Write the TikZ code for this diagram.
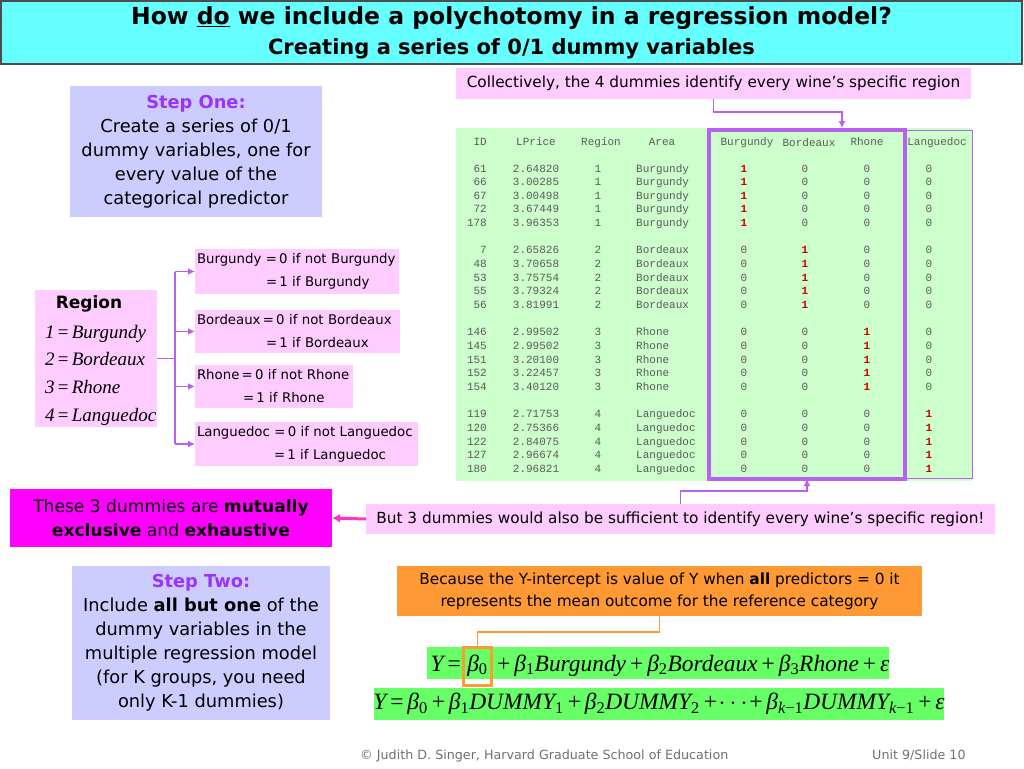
\documentclass[tikz,border=0pt]{standalone}
\usepackage{fontspec}
\setmainfont{DejaVu Sans}
\newfontfamily\tms{Liberation Serif}
\newfontfamily\mono{Liberation Mono}
\usetikzlibrary{arrows.meta,calc}
\definecolor{tcyan}{HTML}{66FFFF}
\definecolor{pinkc}{HTML}{FFCCFF}
\definecolor{lav}{HTML}{CCCCFF}
\definecolor{tgreen}{HTML}{CCFFCC}
\definecolor{purp}{RGB}{182,98,238}
\definecolor{steppurp}{HTML}{9933FF}
\definecolor{mag}{HTML}{FF00FF}
\definecolor{magarrow}{HTML}{FF33CC}
\definecolor{orng}{HTML}{FF9933}
\definecolor{eqgreen}{HTML}{66FF66}
\definecolor{redone}{HTML}{CC0000}
\definecolor{tgray}{HTML}{5A5A5A}
\definecolor{footgray}{HTML}{707070}
\newcommand{\op}[1]{\hspace{0.17em}{\upshape#1}\hspace{0.17em}}
\newcommand{\sub}[1]{\textsubscript{\upshape#1}}
\begin{document}
\begin{tikzpicture}[x=1pt,y=-1pt,
  box/.style={inner sep=0pt, outer sep=0pt, align=center},
  conn/.style={draw=purp, line width=1.5pt},
  tip/.style={-{Latex[length=7pt,width=7pt]}},
  cell/.style={font=\mono\fontsize{11}{13}\selectfont, text=tgray, inner sep=0pt, anchor=base},
  dumtxt/.style={box, fill=pinkc, align=left, font=\fontsize{13.3}{23}\selectfont, inner xsep=2pt},
  stepbox/.style={box, fill=lav, font=\fontsize{17.8}{24}\selectfont},
  eqbox/.style={box, fill=eqgreen},
  eqtxt/.style={inner sep=0pt, font=\tms\itshape\fontsize{23.4}{28}\selectfont},
  regline/.style={anchor=base west, inner sep=0pt, font=\tms\itshape\fontsize{19}{24}\selectfont}]
\useasboundingbox[fill=white] (0,0) rectangle (1024,768);

% title
\node[box, fill=tcyan, draw=black!70, line width=1.2pt, minimum width=1021, minimum height=63,
      font=\bfseries\fontsize{23.5}{30}\selectfont] (title) at (511.5,32.5)
 {How \underline{do} we include a polychotomy in a regression model?\\
  {\fontsize{21}{30}\selectfont Creating a series of 0/1 dummy variables}};

% step one
\node[stepbox, minimum width=252, minimum height=131] (step1) at (196,151.5)
 {{\color{steppurp}\bfseries Step One:}\\Create a series of 0/1\\dummy variables, one for\\every value of the\\categorical predictor};

% step two
\node[stepbox, minimum width=258, minimum height=154] (step2) at (201,643)
 {{\color{steppurp}\bfseries Step Two:}\\Include \textbf{all but one} of the\\dummy variables in the\\multiple regression model\\(for K groups, you need\\only K-1 dummies)};

% collectively
\node[box, fill=pinkc, minimum width=515, minimum height=31, font=\fontsize{15.3}{18}\selectfont] (coll) at (713.5,83.5)
 {Collectively, the 4 dummies identify every wine’s specific region};

% table
\node[box, fill=tgreen, minimum width=516, minimum height=353] (table) at (714,304.5) {};
\node[box, draw=purp, line width=1pt, minimum width=67, minimum height=348] (lang) at (938.5,304) {};
\node[box, draw=purp, line width=4pt, minimum width=196, minimum height=349] (big) at (807,304.5) {};

% headers
\node[cell, anchor=base east] (hID) at (487,145) {ID};
\node[cell] (hLP) at (536,145) {LPrice};
\node[cell] (hRg) at (601,145) {Region};
\node[cell] (hAr) at (662,145) {Area};
\node[cell] (hB1) at (747,145) {Burgundy};
\node[cell] (hB2) at (809,146) {Bordeaux};
\node[cell] (hR3) at (867,145) {Rhone};
\node[cell] (hL4) at (937,145) {Languedoc};

\foreach \i/\id/\pr/\g/\ar in {
 0/61/2.64820/1/Burgundy, 1/66/3.00285/1/Burgundy, 2/67/3.00498/1/Burgundy, 3/72/3.67449/1/Burgundy, 4/178/3.96353/1/Burgundy,
 5/7/2.65826/2/Bordeaux, 6/48/3.70658/2/Bordeaux, 7/53/3.75754/2/Bordeaux, 8/55/3.79324/2/Bordeaux, 9/56/3.81991/2/Bordeaux,
 10/146/2.99502/3/Rhone, 11/145/2.99502/3/Rhone, 12/151/3.20100/3/Rhone, 13/152/3.22457/3/Rhone, 14/154/3.40120/3/Rhone,
 15/119/2.71753/4/Languedoc, 16/120/2.75366/4/Languedoc, 17/122/2.84075/4/Languedoc, 18/127/2.96674/4/Languedoc, 19/180/2.96821/4/Languedoc}{
  \pgfmathsetmacro{\yy}{172+13.65*(\i+\g-1)}
  \node[cell, anchor=base east] (id\i) at (487,\yy) {\id};
  \node[cell] (lp\i) at (536,\yy) {\pr};
  \node[cell] (rg\i) at (598,\yy) {\g};
  \node[cell, anchor=base west] (ar\i) at (636,\yy) {\ar};
  \foreach \c/\x in {1/744,2/805,3/867,4/929}{
    \node[cell] (d\i c\c) at (\x,\yy) {\ifnum\c=\g\relax{\color{redone}\bfseries 1}\else 0\fi};
  }
}

% region
\node[box, fill=pinkc, minimum width=122, minimum height=137] (region) at (96,358.5) {};
\node[anchor=base, inner sep=0pt, font=\bfseries\fontsize{17}{20}\selectfont] (regt) at (89,308) {Region};
\node[regline] (r1) at (45,338) {1\op{=}Burgundy};
\node[regline] (r2) at (45,365) {2\op{=}Bordeaux};
\node[regline] (r3) at (45,393) {3\op{=}Rhone};
\node[regline] (r4) at (45,421) {4\op{=}Languedoc};

% dummy boxes
\node[dumtxt, minimum width=204, minimum height=45, text width=200] (dB) at (297,271.5)
 {\mbox{Burgundy\,\,=\,0 if not Burgundy}\\\mbox{\hspace*{69pt}=\,1 if Burgundy}};
\node[dumtxt, minimum width=205, minimum height=43, text width=201] (dO) at (297.5,331.5)
 {\mbox{Bordeaux\,=\,0 if not Bordeaux}\\\mbox{\hspace*{69pt}=\,1 if Bordeaux}};
\node[dumtxt, minimum width=158, minimum height=43, text width=154] (dR) at (274,386.5)
 {\mbox{Rhone\,=\,0 if not Rhone}\\\mbox{\hspace*{46pt}=\,1 if Rhone}};
\node[dumtxt, minimum width=223, minimum height=44, text width=219] (dL) at (306.5,444)
 {\mbox{Languedoc\,\,=\,0 if not Languedoc}\\\mbox{\hspace*{77pt}=\,1 if Languedoc}};

% region connectors
\coordinate (trunk) at ($(region.east)+(18,0)$);
\draw[conn] (region.east) -- (trunk);
\draw[conn] (trunk |- dB.west) -- (trunk |- dL.west);
\foreach \n in {dB,dO,dR,dL}{
  \draw[conn, tip] (trunk |- \n.west) -- (\n.west);
}

% collectively connector
\draw[conn, tip] (coll.south) |- (842,112) -- (842,128);

% these / but
\node[box, fill=mag, minimum width=322, minimum height=58, font=\fontsize{17.1}{24}\selectfont] (these) at (171,518)
 {These 3 dummies are \textbf{mutually}\\\textbf{exclusive} and \textbf{exhaustive}};
\node[box, fill=pinkc, minimum width=629, minimum height=30, font=\fontsize{15.3}{18}\selectfont] (but) at (680.5,519)
 {But 3 dummies would also be sufficient to identify every wine’s specific region!};
\draw[draw=magarrow, line width=3pt, -{Latex[length=8pt,width=9pt]}] (but.west) -- (these.east);
\draw[conn, tip] (but.north) |- (807,491) -- (big.south);

% orange
\node[box, fill=orng, minimum width=525, minimum height=50, font=\fontsize{15.3}{22}\selectfont] (orange) at (659.5,591)
 {Because the Y-intercept is value of Y when \textbf{all} predictors = 0 it\\represents the mean outcome for the reference category};

% equations
\node[eqbox, minimum width=462, minimum height=32] (eq1) at (658,663) {};
\node[eqbox, minimum width=570, minimum height=32] (eq2) at (659,704) {};
\node[eqtxt, anchor=base east] (eqY) at (461,671) {Y\op{=}};
\node[eqtxt, anchor=base, draw=orng, line width=3pt, minimum width=28, minimum height=38, text depth=8pt] (b0) at (477.5,671) {β\sub{0}};
\node[eqtxt, anchor=base west] (eqrest) at (b0.base east)
 {\op{+}β\sub{1}Burgundy\op{+}β\sub{2}Bordeaux\op{+}β\sub{3}Rhone\op{+}ε};
\node[eqtxt] (eq2t) at (eq2.center)
 {Y\op{=}β\sub{0}\op{+}β\sub{1}DUMMY\sub{1}\op{+}β\sub{2}DUMMY\sub{2}\op{+}\hspace{-0.1em}$\cdots$\hspace{-0.1em}\op{+}β\sub{\itshape k\upshape−1}DUMMY\sub{\itshape k\upshape−1}\op{+}ε};
\draw[draw=orng, line width=1.5pt] (orange.south) |- (b0.north |- 0,632) -- (b0.north);

% footer
\node[anchor=base west, inner sep=0pt, text=footgray, font=\fontsize{12.7}{15}\selectfont] (foot) at (360,759)
 {© Judith D. Singer, Harvard Graduate School of Education};
\node[anchor=base west, inner sep=0pt, text=footgray, font=\fontsize{12.7}{15}\selectfont] (slide) at (872,759)
 {Unit 9/Slide 10};
\end{tikzpicture}
\end{document}
